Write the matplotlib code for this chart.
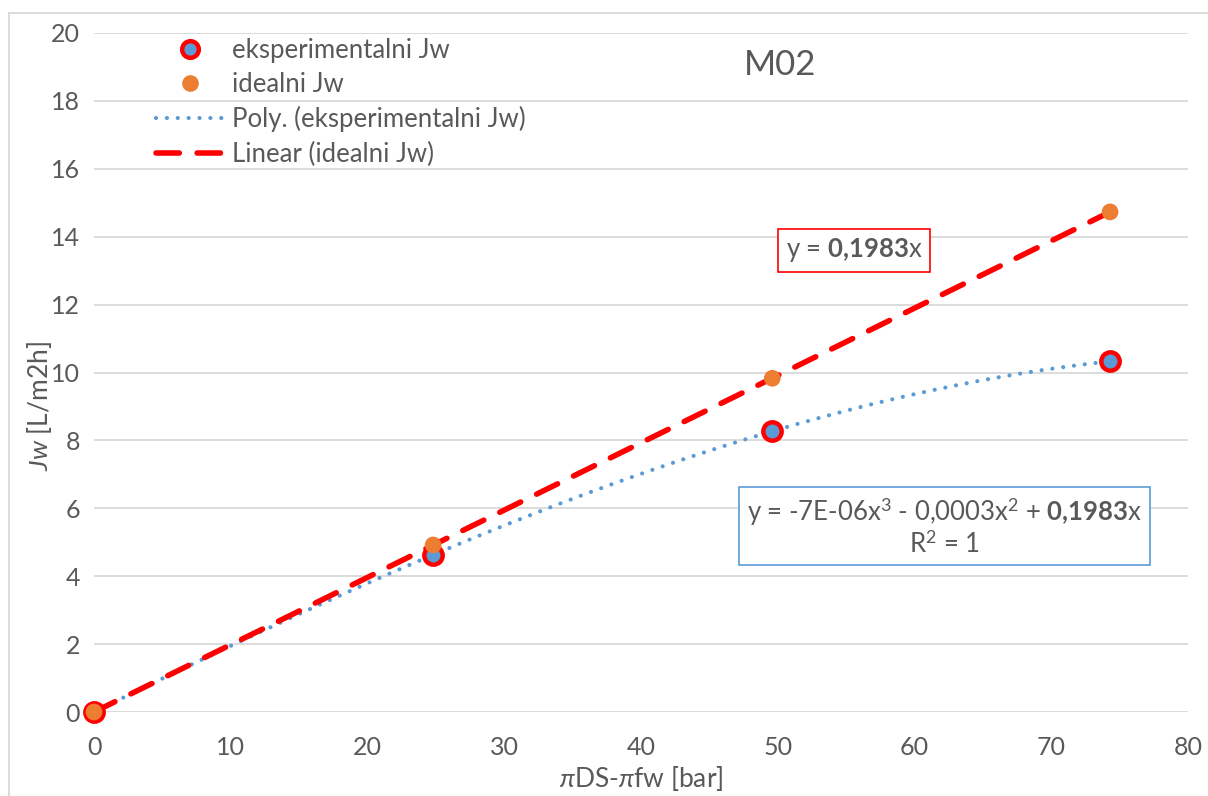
import matplotlib

matplotlib.use("Agg")
import matplotlib.pyplot as plt
import numpy as np
from matplotlib.lines import Line2D

plt.rcParams["font.family"] = ["Lato", "DejaVu Sans"]
plt.rcParams["mathtext.fontset"] = "custom"
plt.rcParams["mathtext.rm"] = "Lato"
plt.rcParams["mathtext.it"] = "Lato:italic"
plt.rcParams["mathtext.bf"] = "Lato:bold"

# Data
dp = [0.0, 24.8, 49.6, 74.3]                 # piDS - pifw [bar]
jw_exp = [0.0, 4.63, 8.27, 10.33]            # eksperimentalni Jw
jw_ideal = [0.0, 4.92, 9.83, 14.73]          # idealni Jw

x_ticks = [0, 10, 20, 30, 40, 50, 60, 70, 80]
y_ticks = [0, 2, 4, 6, 8, 10, 12, 14, 16, 18, 20]

TEXT = "#595959"
GRID = "#d9d9d9"
BLUE = "#5b9bd5"
ORANGE = "#ed7d31"
RED = "#ff0000"

DOT = (0, (0.01, 2.6))
DASH = (0, (4.2, 3.2))

x = np.array(dp)
y_e = np.array(jw_exp)
y_i = np.array(jw_ideal)

# trendlines through the origin: cubic for experimental, linear for ideal
A3 = np.column_stack([x**3, x**2, x])
c3, *_ = np.linalg.lstsq(A3, y_e, rcond=None)
slope = np.sum(x * y_i) / np.sum(x * x)

xs = np.linspace(0, max(dp), 300)
poly_y = c3[0] * xs**3 + c3[1] * xs**2 + c3[2] * xs
lin_y = slope * xs

fig = plt.figure(figsize=(12.08, 7.96), dpi=100)
ax = fig.add_axes([94 / 1208, 1 - 712 / 796, (1188 - 94) / 1208, (712 - 33) / 796])

ax.plot(xs, poly_y, color=BLUE, lw=3.0, linestyle=DOT,
        dash_capstyle="round", zorder=3)
ax.plot(xs, lin_y, color=RED, lw=4.0, linestyle=DASH,
        dash_capstyle="round", zorder=3)
ax.scatter(x, y_e, s=175, c=BLUE, edgecolors=RED, linewidths=3.2, zorder=4,
           clip_on=False)
ax.scatter(x, y_i, s=145, c=ORANGE, edgecolors="none", zorder=5, clip_on=False)

ax.set_xlim(0, 80)
ax.set_ylim(0, 20)
ax.set_xticks(x_ticks)
ax.set_yticks(y_ticks)
ax.tick_params(length=0, labelsize=18, colors=TEXT)
ax.tick_params(axis="x", pad=17)
ax.tick_params(axis="y", pad=10)
ax.grid(axis="y", color=GRID, lw=1.3)
ax.set_axisbelow(True)
for s in ax.spines.values():
    s.set_visible(False)

ax.set_xlabel(r"$\pi$DS-$\pi$fw [bar]", fontsize=19, color=TEXT, labelpad=4)
ax.set_ylabel(r"$\mathit{Jw}$ [L/m2h]", fontsize=19, color=TEXT)
ax.yaxis.set_label_coords(-0.037, 0.45)

fig.text(780 / 1208, 1 - 65 / 796, "M02", fontsize=25, color=TEXT,
         ha="center", va="center")

# trendline equation labels
ax.text(55.6, 13.6, r"y = $\mathbf{0{,}1983}$x", fontsize=18.5, color=TEXT,
        ha="center", va="center",
        bbox=dict(boxstyle="square,pad=0.3", fc="white", ec=RED, lw=1.2))
ax.text(62.2, 5.45,
        r"y = -7E-06x$^{3}$ - 0,0003x$^{2}$ + $\mathbf{0{,}1983}$x" + "\n"
        + r"R$^{2}$ = 1",
        fontsize=18.5, color=TEXT, ha="center", va="center", linespacing=1.1,
        bbox=dict(boxstyle="square,pad=0.3", fc="white", ec=BLUE, lw=1.2))

handles = [
    Line2D([], [], ls="none", marker="o", ms=12, mfc=BLUE, mec=RED, mew=3.2),
    Line2D([], [], ls="none", marker="o", ms=12, mfc=ORANGE, mec="none"),
    Line2D([], [], color=BLUE, lw=3.0, linestyle=DOT, dash_capstyle="round"),
    Line2D([], [], color=RED, lw=4.0, linestyle=DASH, dash_capstyle="round"),
]
labels = ["eksperimentalni Jw", "idealni Jw", "Poly. (eksperimentalni Jw)",
          "Linear (idealni Jw)"]
leg = ax.legend(handles, labels, loc="upper left", bbox_to_anchor=(0.047, 1.008),
                frameon=False, fontsize=18.5, handlelength=2.7, handletextpad=0.27,
                labelspacing=0.36, borderaxespad=0.0)
for t in leg.get_texts():
    t.set_color(TEXT)

# outer chart border (left and top only visible in the crop)
fig.add_artist(Line2D([9 / 1208, 9 / 1208], [0, 1 - 13 / 796], color=GRID, lw=1.3))
fig.add_artist(Line2D([9 / 1208, 1], [1 - 13 / 796, 1 - 13 / 796], color=GRID, lw=1.3))

fig.savefig("out.png", dpi=100)
